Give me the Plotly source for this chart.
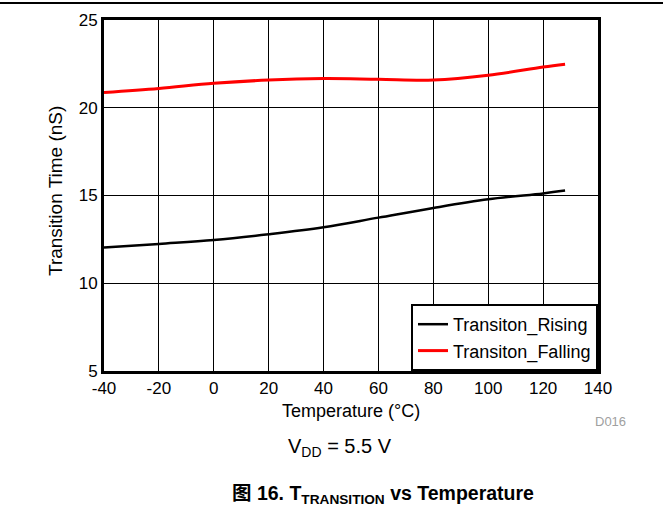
import plotly.graph_objects as go

# Temperature sweep (°C) and measured transition times (ns)
temperature = [-40, -20, 0, 20, 40, 60, 80, 100, 120, 128]
rising_ns = [12.03, 12.24, 12.46, 12.79, 13.19, 13.74, 14.29, 14.78, 15.12, 15.28]
falling_ns = [20.87, 21.10, 21.39, 21.58, 21.66, 21.62, 21.58, 21.85, 22.32, 22.48]

x_ticks = [-40, -20, 0, 20, 40, 60, 80, 100, 120, 140]
x_tick_text = ["-40", "-20", "0", "20", "40", "60", "80", "100", "120", "140"]
y_ticks = [5, 10, 15, 20, 25]

W, H = 663, 508
L, R, T, B = 104, 598, 20, 371  # plot area in pixels


def px(x):
    return (x - L) / (R - L)


def py(y):
    return (B - y) / (B - T)


FONT = "Liberation Sans, Arial, sans-serif"

fig = go.Figure()
fig.add_trace(go.Scatter(
    x=temperature, y=rising_ns, name="Transiton_Rising", mode="lines",
    line=dict(color="black", width=2.5, shape="spline"),
))
fig.add_trace(go.Scatter(
    x=temperature, y=falling_ns, name="Transiton_Falling", mode="lines",
    line=dict(color="#ff0000", width=3, shape="spline"),
))

axis_common = dict(
    showline=True, linecolor="black", linewidth=3, mirror=True,
    showgrid=True, gridcolor="black", gridwidth=1,
    zeroline=False, ticks="", tickfont=dict(size=17, color="black", family=FONT),
)

fig.update_xaxes(range=[-40, 140], tickvals=x_ticks, ticktext=x_tick_text, **axis_common)
fig.update_yaxes(range=[5, 25], tickvals=y_ticks, **axis_common)


def note(text, x, y, size, color="black", family=FONT, angle=0):
    return dict(text=text, xref="paper", yref="paper", x=px(x), y=py(y),
                xanchor="center", yanchor="middle", showarrow=False, textangle=angle,
                font=dict(size=size, color=color, family=family))


fig.update_layout(
    width=W, height=H,
    margin=dict(l=L, r=W - R, t=T, b=H - B, pad=0),
    paper_bgcolor="white", plot_bgcolor="white",
    font=dict(family=FONT, color="black"),
    showlegend=True,
    legend=dict(
        x=1, y=0, xanchor="right", yanchor="bottom",
        bgcolor="white", bordercolor="black", borderwidth=2,
        font=dict(size=18, color="black", family=FONT),
        tracegroupgap=0,
    ),
    shapes=[dict(type="line", xref="paper", yref="paper",
                 x0=px(0), x1=px(W), y0=py(3), y1=py(3),
                 line=dict(color="black", width=2))],
    annotations=[
        note("Transition Time (nS)", 55, 191, 19, angle=-90),
        note("Temperature (°C)", 351, 411, 18),
        note("D016", 610, 421, 13, color="#a0a0a0"),
        note("V<sub>DD</sub> = 5.5 V", 340, 447, 20),
        note("<b>图 16. T<sub>TRANSITION</sub> vs Temperature</b>", 383, 494, 19.5,
             family="Liberation Sans, Noto Sans CJK SC, sans-serif"),
    ],
)

fig.write_html("out.html")
